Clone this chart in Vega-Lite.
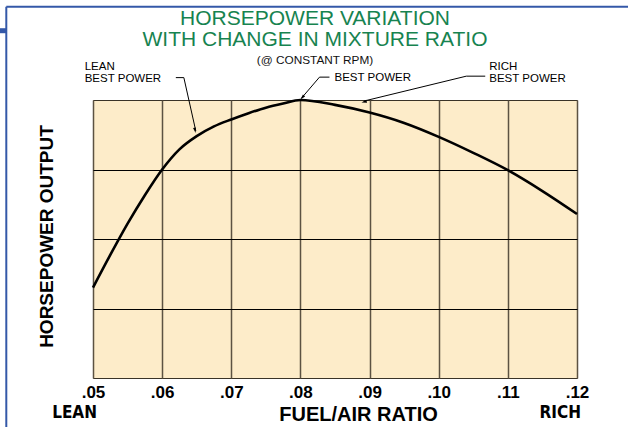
{
  "$schema": "https://vega.github.io/schema/vega-lite/v6.json",
  "width": 484,
  "height": 278,
  "autosize": "none",
  "padding": {"left": 93, "top": 100, "right": 51, "bottom": 49},
  "background": "white",
  "config": {
    "view": {"fill": "#fdecc9", "stroke": "#3a3327", "strokeWidth": 1},
    "font": "Liberation Sans"
  },
  "title": {
    "text": ["HORSEPOWER VARIATION", "WITH CHANGE IN MIXTURE RATIO"],
    "subtitle": "(@ CONSTANT RPM)",
    "anchor": "middle",
    "dx": -20,
    "offset": -61,
    "font": "Liberation Sans",
    "fontSize": 21,
    "fontWeight": "normal",
    "color": "#178350",
    "lineHeight": 21,
    "subtitleFont": "Liberation Sans",
    "subtitleFontSize": 11.8,
    "subtitleColor": "#111111",
    "subtitlePadding": 5
  },
  "datasets": {
    "curve": [
      {"x": 0.05, "y": 1.30},
      {"x": 0.0525, "y": 1.77},
      {"x": 0.055, "y": 2.22},
      {"x": 0.0575, "y": 2.63},
      {"x": 0.06, "y": 3.0},
      {"x": 0.0625, "y": 3.29},
      {"x": 0.065, "y": 3.48},
      {"x": 0.0675, "y": 3.62},
      {"x": 0.07, "y": 3.72},
      {"x": 0.0725, "y": 3.81},
      {"x": 0.075, "y": 3.89},
      {"x": 0.0775, "y": 3.95},
      {"x": 0.08, "y": 4.0},
      {"x": 0.085, "y": 3.93},
      {"x": 0.09, "y": 3.82},
      {"x": 0.095, "y": 3.67},
      {"x": 0.10, "y": 3.47},
      {"x": 0.105, "y": 3.24},
      {"x": 0.11, "y": 2.99},
      {"x": 0.115, "y": 2.69},
      {"x": 0.12, "y": 2.36}
    ],
    "leaders": [
      {"x": 0.06198, "y": 4.322, "x2": 0.06314, "y2": 4.322},
      {"x": 0.06314, "y": 4.322, "x2": 0.06487, "y2": 3.553},
      {"x": 0.08276, "y": 4.329, "x2": 0.0842, "y2": 4.329},
      {"x": 0.08276, "y": 4.329, "x2": 0.08016, "y2": 4.027},
      {"x": 0.10399, "y": 4.343, "x2": 0.10673, "y2": 4.343},
      {"x": 0.10399, "y": 4.343, "x2": 0.08915, "y2": 3.984}
    ],
    "notes": [
      {"x": 0.0488, "y": 4.43, "label": "LEAN"},
      {"x": 0.0488, "y": 4.257, "label": "BEST POWER"},
      {"x": 0.08493, "y": 4.272, "label": "BEST POWER"},
      {"x": 0.10731, "y": 4.43, "label": "RICH"},
      {"x": 0.10731, "y": 4.257, "label": "BEST POWER"}
    ],
    "ends": [
      {"x": 0.05, "y": -0.57, "label": "LEAN"},
      {"x": 0.12, "y": -0.57, "label": "RICH"}
    ],
    "frame": [
      {"x": 0.03746, "y": 5.342, "x2": 0.03746, "y2": -0.71},
      {"x": 0.03746, "y": 5.342, "x2": 0.13, "y2": 5.342}
    ],
    "tab": [
      {"x": 0.0364, "y": 4.997, "x2": 0.03746, "y2": 4.997}
    ]
  },
  "encoding": {
    "x": {
      "field": "x",
      "type": "quantitative",
      "scale": {"domain": [0.05, 0.12], "nice": false, "zero": false},
      "axis": {
        "title": "FUEL/AIR RATIO",
        "values": [0.05, 0.06, 0.07, 0.08, 0.09, 0.10, 0.11, 0.12],
        "labelExpr": "replace(format(datum.value, '.2f'), '0.', '.')",
        "labelFlush": false,
        "labelOverlap": false,
        "labelFont": "Liberation Sans",
        "labelFontWeight": "bold",
        "labelFontSize": 17,
        "labelColor": "#000000",
        "labelPadding": 6,
        "ticks": false,
        "domain": false,
        "grid": true,
        "gridColor": "#5c5242",
        "gridWidth": 1.5,
        "titleFont": "Liberation Sans",
        "titleFontWeight": "bold",
        "titleFontSize": 20,
        "titleColor": "#000000",
        "titleX": 265,
        "titleY": 42,
        "titleAlign": "center",
        "titleBaseline": "alphabetic"
      }
    },
    "y": {
      "field": "y",
      "type": "quantitative",
      "scale": {"domain": [0, 4], "nice": false, "zero": false},
      "axis": {
        "title": "HORSEPOWER OUTPUT",
        "values": [1, 2, 3],
        "labels": false,
        "ticks": false,
        "domain": false,
        "grid": true,
        "gridColor": "#000000",
        "gridWidth": 1,
        "titleFont": "Liberation Sans",
        "titleFontWeight": "bold",
        "titleFontSize": 19,
        "titleColor": "#000000",
        "titleAngle": 270,
        "titleX": -47,
        "titleY": 136,
        "titleAlign": "center",
        "titleBaseline": "middle"
      }
    }
  },
  "layer": [
    {
      "data": {"name": "curve"},
      "mark": {"type": "line", "color": "#000000", "strokeWidth": 2.6, "interpolate": "monotone"}
    },
    {
      "data": {"name": "leaders"},
      "mark": {"type": "rule", "color": "#000000", "strokeWidth": 1},
      "encoding": {
        "x2": {"field": "x2"},
        "y2": {"field": "y2"}
      }
    },
    {
      "data": {"values": [{"x": 0.06484, "y": 3.525}]},
      "mark": {"type": "point", "shape": "M0,0L-0.45,-1.7L0.45,-1.7Z", "filled": true, "color": "#000000", "opacity": 1, "size": 40, "angle": 347.5}
    },
    {
      "data": {"values": [{"x": 0.08001, "y": 4.006}]},
      "mark": {"type": "point", "shape": "M0,0L-0.45,-1.7L0.45,-1.7Z", "filled": true, "color": "#000000", "opacity": 1, "size": 40, "angle": 40.8}
    },
    {
      "data": {"values": [{"x": 0.08883, "y": 3.963}]},
      "mark": {"type": "point", "shape": "M0,0L-0.45,-1.7L0.45,-1.7Z", "filled": true, "color": "#000000", "opacity": 1, "size": 40, "angle": 75.8}
    },
    {
      "data": {"name": "notes"},
      "mark": {"type": "text", "align": "left", "baseline": "alphabetic", "font": "Liberation Sans", "fontSize": 11.5, "color": "#000000"},
      "encoding": {"text": {"field": "label"}}
    },
    {
      "data": {"name": "ends"},
      "mark": {"type": "text", "align": "right", "baseline": "alphabetic", "font": "'DejaVu Sans Condensed', 'Liberation Sans'", "fontWeight": "bold", "fontSize": 17, "color": "#000000", "dx": 4},
      "encoding": {"text": {"field": "label"}}
    },
    {
      "data": {"name": "frame"},
      "mark": {"type": "rule", "color": "#3458a8", "strokeWidth": 2},
      "encoding": {
        "x2": {"field": "x2"},
        "y2": {"field": "y2"}
      }
    },
    {
      "data": {"name": "tab"},
      "mark": {"type": "rule", "color": "#3458a8", "strokeWidth": 5},
      "encoding": {
        "x2": {"field": "x2"},
        "y2": {"field": "y2"}
      }
    }
  ]
}
